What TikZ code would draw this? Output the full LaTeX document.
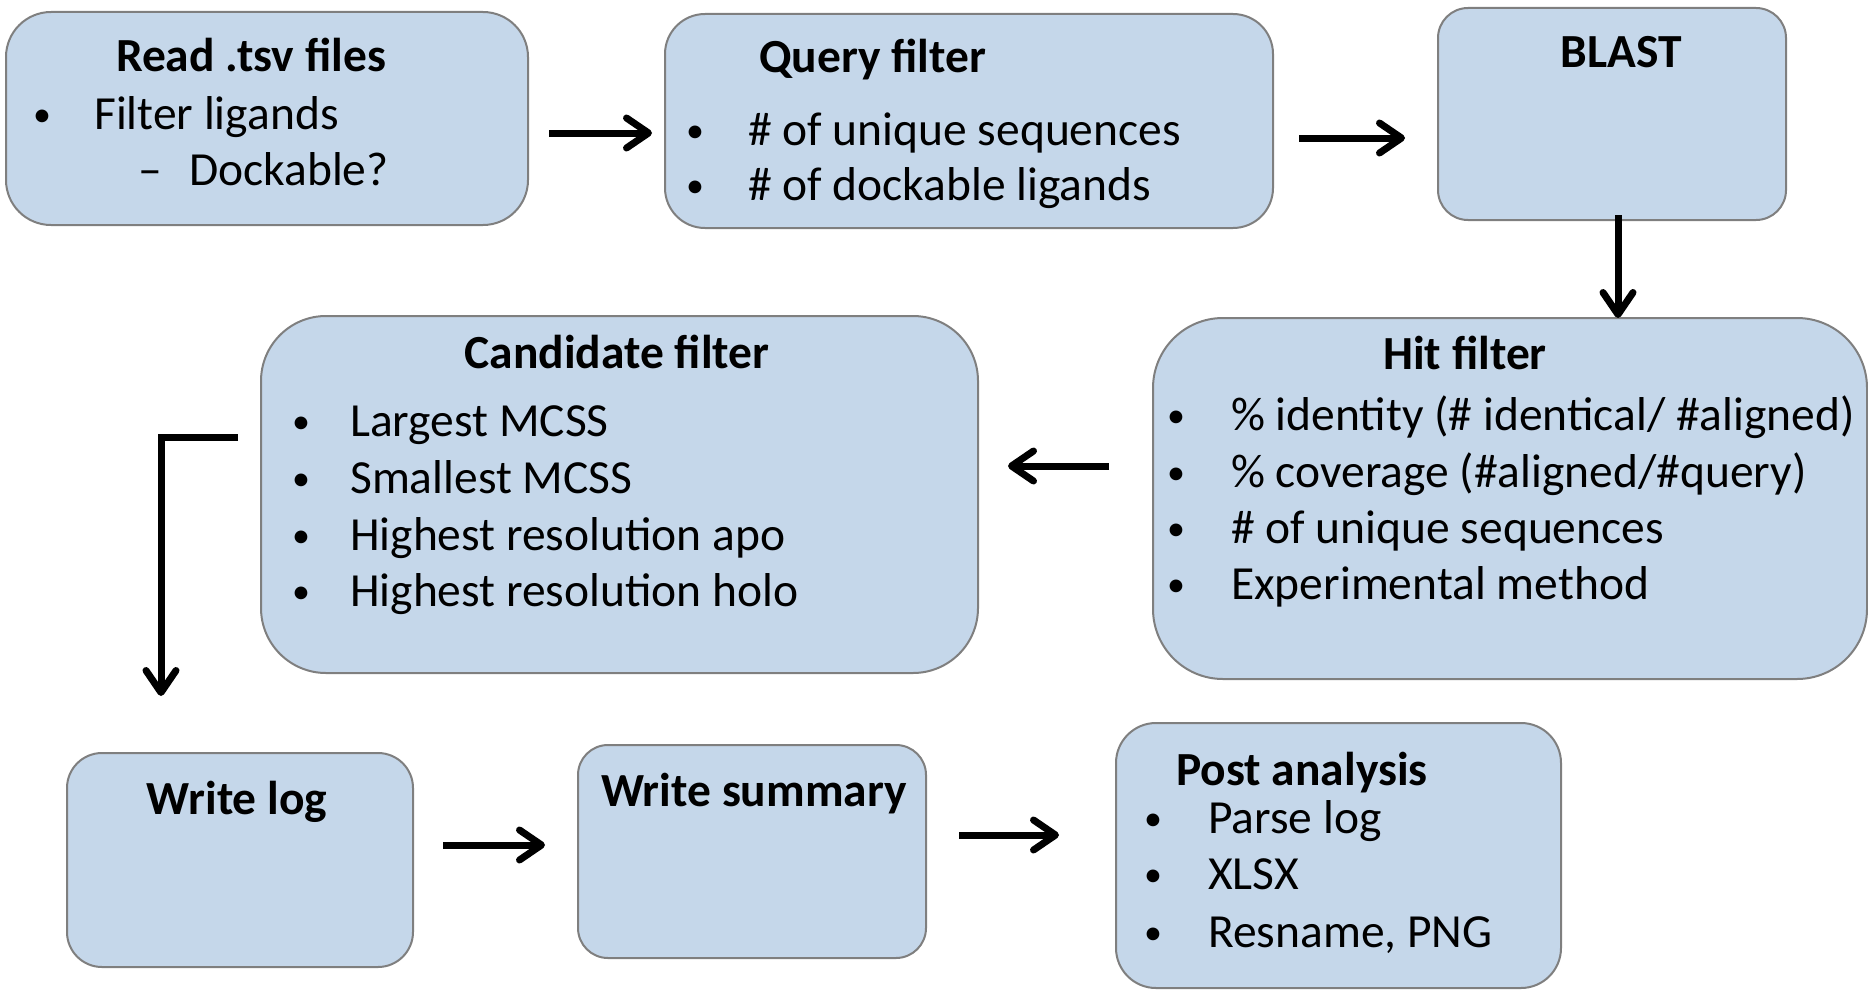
\documentclass[tikz,border=0pt]{standalone}
\usepackage{fontspec}
\setmainfont{Carlito}
\usetikzlibrary{arrows.meta,calc}
\definecolor{boxfill}{HTML}{C5D7EA}
\definecolor{boxline}{HTML}{7F7F7F}
\tikzset{
  box/.style={draw=boxline, fill=boxfill, line width=2pt, inner sep=0pt},
  txt/.style={inner sep=0pt, font=\fontsize{47.5}{57}\selectfont},
  ttl/.style={txt, font=\fontsize{47.5}{57}\selectfont\bfseries},
  bul/.style={inner sep=0pt, font=\fontsize{36}{40}\selectfont},
  arr/.style={line width=7pt, -{Straight Barb[length=22pt,width=30pt,round]}}
}
\begin{document}
\begin{tikzpicture}[x=1pt,y=-1pt]
\useasboundingbox (0,0) rectangle (1868,990);
% boxes
\node[box, rounded corners=45pt, minimum width=522pt, minimum height=213pt] (read) at (267,118.5) {};
\node[box, rounded corners=40pt, minimum width=608pt, minimum height=214pt] (query) at (969,121) {};
\node[box, rounded corners=30pt, minimum width=348pt, minimum height=212pt] (blast) at (1612,114) {};
\node[box, rounded corners=70pt, minimum width=714pt, minimum height=361pt] (hit) at (1510,498.5) {};
\node[box, rounded corners=65pt, minimum width=717pt, minimum height=357pt] (cand) at (619.5,494.5) {};
\node[box, rounded corners=35pt, minimum width=346pt, minimum height=214pt] (wlog) at (240,860) {};
\node[box, rounded corners=30pt, minimum width=348pt, minimum height=213pt] (wsum) at (752,851.5) {};
\node[box, rounded corners=40pt, minimum width=445pt, minimum height=265pt] (post) at (1338.5,855.5) {};

% Read .tsv files
\node[ttl, anchor=base] (t1) at (251,71) {Read .tsv files};
\node[bul, anchor=base] (t1b1) at (42,126) {•};
\node[txt, anchor=base west] (t1l1) at (94,129) {Filter ligands};
\node[txt, anchor=base] (t1b2) at (150,185) {–};
\node[txt, anchor=base west] (t1l2) at (189,185) {Dockable?};

% Query filter
\node[ttl, anchor=base west] (t2) at (759,72) {Query filter};
\node[bul, anchor=base] (t2b1) at (695,142) {•};
\node[txt, anchor=base west] (t2l1) at (748,145) {\# of unique sequences};
\node[bul, anchor=base] (t2b2) at (695,197) {•};
\node[txt, anchor=base west] (t2l2) at (748,200) {\# of dockable ligands};

% BLAST
\node[ttl, anchor=base] (t3) at (1621,67) {BLAST};

% Hit filter
\node[ttl, anchor=base] (t4) at (1465,369) {Hit filter};
\node[bul, anchor=base] (t4b1) at (1176,427) {•};
\node[txt, anchor=base west] (t4l1) at (1231,430) {\% identity (\# identical/ \#aligned)};
\node[bul, anchor=base] (t4b2) at (1176,484) {•};
\node[txt, anchor=base west] (t4l2) at (1231,487) {\% coverage (\#aligned/\#query)};
\node[bul, anchor=base] (t4b3) at (1176,540) {•};
\node[txt, anchor=base west] (t4l3) at (1231,543) {\# of unique sequences};
\node[bul, anchor=base] (t4b4) at (1176,596) {•};
\node[txt, anchor=base west] (t4l4) at (1231,599) {Experimental method};

% Candidate filter
\node[ttl, anchor=base] (t5) at (617,368) {Candidate filter};
\node[bul, anchor=base] (t5b1) at (301,433) {•};
\node[txt, anchor=base west] (t5l1) at (350,436) {Largest MCSS};
\node[bul, anchor=base] (t5b2) at (301,490) {•};
\node[txt, anchor=base west] (t5l2) at (350,493) {Smallest MCSS};
\node[bul, anchor=base] (t5b3) at (301,547) {•};
\node[txt, anchor=base west] (t5l3) at (350,550) {Highest resolution apo};
\node[bul, anchor=base] (t5b4) at (301,603) {•};
\node[txt, anchor=base west] (t5l4) at (350,606) {Highest resolution holo};

% Write log / summary
\node[ttl, anchor=base] (t6) at (237,814) {Write log};
\node[ttl, anchor=base] (t7) at (754,806) {Write summary};

% Post analysis
\node[ttl, anchor=base west] (t8) at (1176,785) {Post analysis};
\node[bul, anchor=base] (t8b1) at (1153,830) {•};
\node[txt, anchor=base west] (t8l1) at (1208,833) {Parse log};
\node[bul, anchor=base] (t8b2) at (1153,886) {•};
\node[txt, anchor=base west] (t8l2) at (1208,889) {XLSX};
\node[bul, anchor=base] (t8b3) at (1153,944) {•};
\node[txt, anchor=base west] (t8l3) at (1208,947) {Resname, PNG};

% connectors
\draw[arr] ($(read.east)+(20,14.5)$) -- ($(query.west)+(-12,12)$);
\draw[arr] ($(query.east)+(25,17)$) -- ($(blast.west)+(-32,24)$);
\draw[arr] ($(blast.south)+(6,-6)$) -- ($(hit.north)+(108,1)$);
\draw[arr] ($(hit.west)+(-43,-32.5)$) -- ($(cand.east)+(29,-28.5)$);
\coordinate (bendstart) at ($(cand.west)+(-22,-57.5)$);
\coordinate (logtop) at ($(wlog.north)+(-79,-56)$);
\draw[arr] (bendstart) -| (logtop);
\draw[arr] ($(wlog.east)+(29,-15)$) -- ($(wsum.west)+(-32,-6.5)$);
\draw[arr] ($(wsum.east)+(32,-16.5)$) -- ($(post.west)+(-56,-20.5)$);
\end{tikzpicture}
\end{document}
